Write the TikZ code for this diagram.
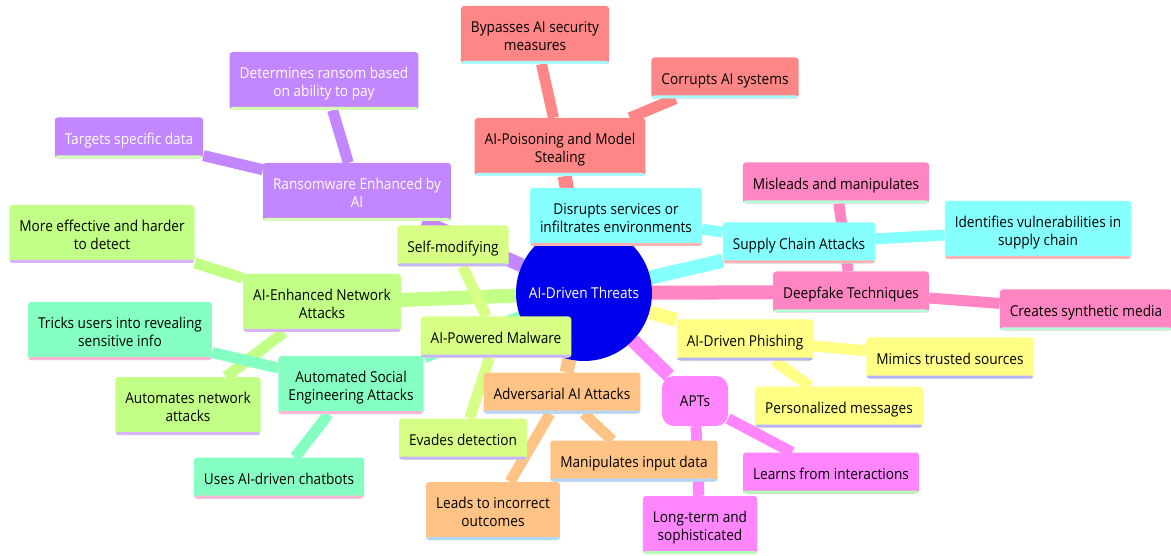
\documentclass[tikz,border=0pt]{standalone}
\usepackage{fontspec}
\setmainfont{Open Sans}[FakeStretch=0.91]
\usetikzlibrary{backgrounds}

\definecolor{rootf}{HTML}{0000EC}
\definecolor{redf}{HTML}{FF8686}     \definecolor{reds}{HTML}{A6FFFF}
\definecolor{orangef}{HTML}{FFC386}  \definecolor{oranges}{HTML}{B0D8FF}
\definecolor{yellowf}{HTML}{FFFF86}  \definecolor{yellows}{HTML}{B4B4FF}
\definecolor{limef}{HTML}{D7FF86}    \definecolor{limes}{HTML}{C8B4FF}
\definecolor{greenf}{HTML}{C2FF86}   \definecolor{greens}{HTML}{D8B4FF}
\definecolor{mintf}{HTML}{86FFC2}    \definecolor{mints}{HTML}{FFB4D8}
\definecolor{cyanf}{HTML}{86FFFF}    \definecolor{cyans}{HTML}{FFB4B4}
\definecolor{purplef}{HTML}{C286FF}  \definecolor{purples}{HTML}{D4FFB4}
\definecolor{magentaf}{HTML}{FF86FF} \definecolor{magentas}{HTML}{B4FFB4}
\definecolor{pinkf}{HTML}{FF86C2}    \definecolor{pinks}{HTML}{B4FFD8}

\begin{document}
\begin{tikzpicture}[
    x=1pt, y=-1pt,
    every node/.style={font=\fontsize{15}{18}\selectfont, align=center},
    idea/.style n args={2}{rectangle, rounded corners=3pt, fill=#1, inner xsep=10pt, inner ysep=2pt,
        minimum height=41pt, text height=14pt, text depth=1pt,
        path picture={\fill[#2] (path picture bounding box.south west) rectangle ([yshift=3pt]path picture bounding box.south east);}},
    two/.style={text height=32pt, text depth=1pt, minimum height=58pt},
    red box/.style={idea={redf}{reds}},
    orange box/.style={idea={orangef}{oranges}},
    yellow box/.style={idea={yellowf}{yellows}},
    lime box/.style={idea={limef}{limes}},
    green box/.style={idea={greenf}{greens}},
    mint box/.style={idea={mintf}{mints}},
    cyan box/.style={idea={cyanf}{cyans}},
    purple box/.style={idea={purplef}{purples}, text=white},
    magenta box/.style={idea={magentaf}{magentas}},
    pink box/.style={idea={pinkf}{pinks}},
    branch/.style={line width=14pt, draw=#1},
    twig/.style={line width=11pt, draw=#1}
]
\useasboundingbox (0,0) rectangle (1171,556);

% === ROOT ===
\node[circle, fill=rootf, text=white, minimum size=136pt, inner sep=0pt] (root) at (584,293) {AI-Driven Threats};

% === AI-POISONING ===
\node[red box, two] (poison) at (560,147) {AI-Poisoning and Model\\Stealing};
\node[red box, two] (bypass) at (535,35) {Bypasses AI security\\measures};
\node[red box] (corrupt) at (725,78) {Corrupts AI systems};

% === SUPPLY CHAIN ===
\node[cyan box] (supply) at (799,243) {Supply Chain Attacks};
\node[cyan box, two] (disrupt) at (616,217) {Disrupts services or\\infiltrates environments};
\node[cyan box, two] (identify) at (1038,230) {Identifies vulnerabilities in\\supply chain};

% === DEEPFAKE ===
\node[pink box] (deepfake) at (851,292) {Deepfake Techniques};
\node[pink box] (mislead) at (836,183) {Misleads and manipulates};
\node[pink box] (synth) at (1086,310) {Creates synthetic media};

% === PHISHING ===
\node[yellow box] (phish) at (745,340) {AI-Driven Phishing};
\node[yellow box] (mimic) at (950,358) {Mimics trusted sources};
\node[yellow box] (personal) at (839,407) {Personalized messages};

% === APTS ===
\node[rectangle, rounded corners=12pt, fill=magentaf, minimum width=66pt, minimum height=50pt] (apt) at (695,401) {APTs};
\node[magenta box] (learn) at (831,473) {Learns from interactions};
\node[magenta box, two] (longterm) at (700,525) {Long-term and\\sophisticated};

% === ADVERSARIAL ===
\node[orange box] (advers) at (562,393) {Adversarial AI Attacks};
\node[orange box] (manip) at (634,461) {Manipulates input data};
\node[orange box, two] (leads) at (493,511) {Leads to incorrect\\outcomes};

% === SOCIAL ENGINEERING ===
\node[mint box, two] (social) at (351,385) {Automated Social\\Engineering Attacks};
\node[mint box, two] (tricks) at (120,331) {Tricks users into revealing\\sensitive info};
\node[mint box] (chatbot) at (279,478) {Uses AI-driven chatbots};

% === MALWARE ===
\node[lime box] (malware) at (496,337) {AI-Powered Malware};
\node[lime box] (selfmod) at (453,246) {Self-modifying};
\node[lime box] (evade) at (463,439) {Evades detection};

% === NETWORK ===
\node[green box, two] (network) at (322,303) {AI-Enhanced Network\\Attacks};
\node[green box, two] (effective) at (102,234) {More effective and harder\\to detect};
\node[green box, two] (automates) at (188,406) {Automates network\\attacks};

% === RANSOMWARE ===
\node[purple box, two] (ransom) at (357,192) {Ransomware Enhanced by\\AI};
\node[purple box, two] (determine) at (324,81) {Determines ransom based\\on ability to pay};
\node[purple box] (targets) at (129,138) {Targets specific data};

% === EDGES ===
\begin{scope}[on background layer]
\draw[branch=greenf] (root) -- (network);
\draw[twig=greenf] (network) -- (effective);
\draw[twig=greenf] (network) -- (automates);
\draw[branch=purplef] (root) -- (ransom);
\draw[twig=purplef] (ransom) -- (determine);
\draw[twig=purplef] (ransom) -- (targets);
\draw[branch=limef] (root) -- (malware);
\draw[twig=limef] (malware) -- (selfmod);
\draw[twig=limef] (malware) -- (evade);
\draw[branch=mintf] (root) -- (social);
\draw[twig=mintf] (social) -- (tricks);
\draw[twig=mintf] (social) -- (chatbot);
\draw[branch=orangef] (root) -- (advers);
\draw[twig=orangef] (advers) -- (manip);
\draw[twig=orangef] (advers) -- (leads);
\draw[branch=magentaf] (root) -- (apt);
\draw[twig=magentaf] (apt) -- (learn);
\draw[twig=magentaf] (apt) -- (longterm);
\draw[branch=yellowf] (root) -- (phish);
\draw[twig=yellowf] (phish) -- (mimic);
\draw[twig=yellowf] (phish) -- (personal);
\draw[branch=pinkf] (root) -- (deepfake);
\draw[twig=pinkf] (deepfake) -- (mislead);
\draw[twig=pinkf] (deepfake) -- (synth);
\draw[branch=cyanf] (root) -- (supply);
\draw[twig=cyanf] (supply) -- (disrupt);
\draw[twig=cyanf] (supply) -- (identify);
\draw[branch=redf] (root) -- (poison);
\draw[twig=redf] (poison) -- (bypass);
\draw[twig=redf] (poison) -- (corrupt);
\end{scope}

\end{tikzpicture}
\end{document}
